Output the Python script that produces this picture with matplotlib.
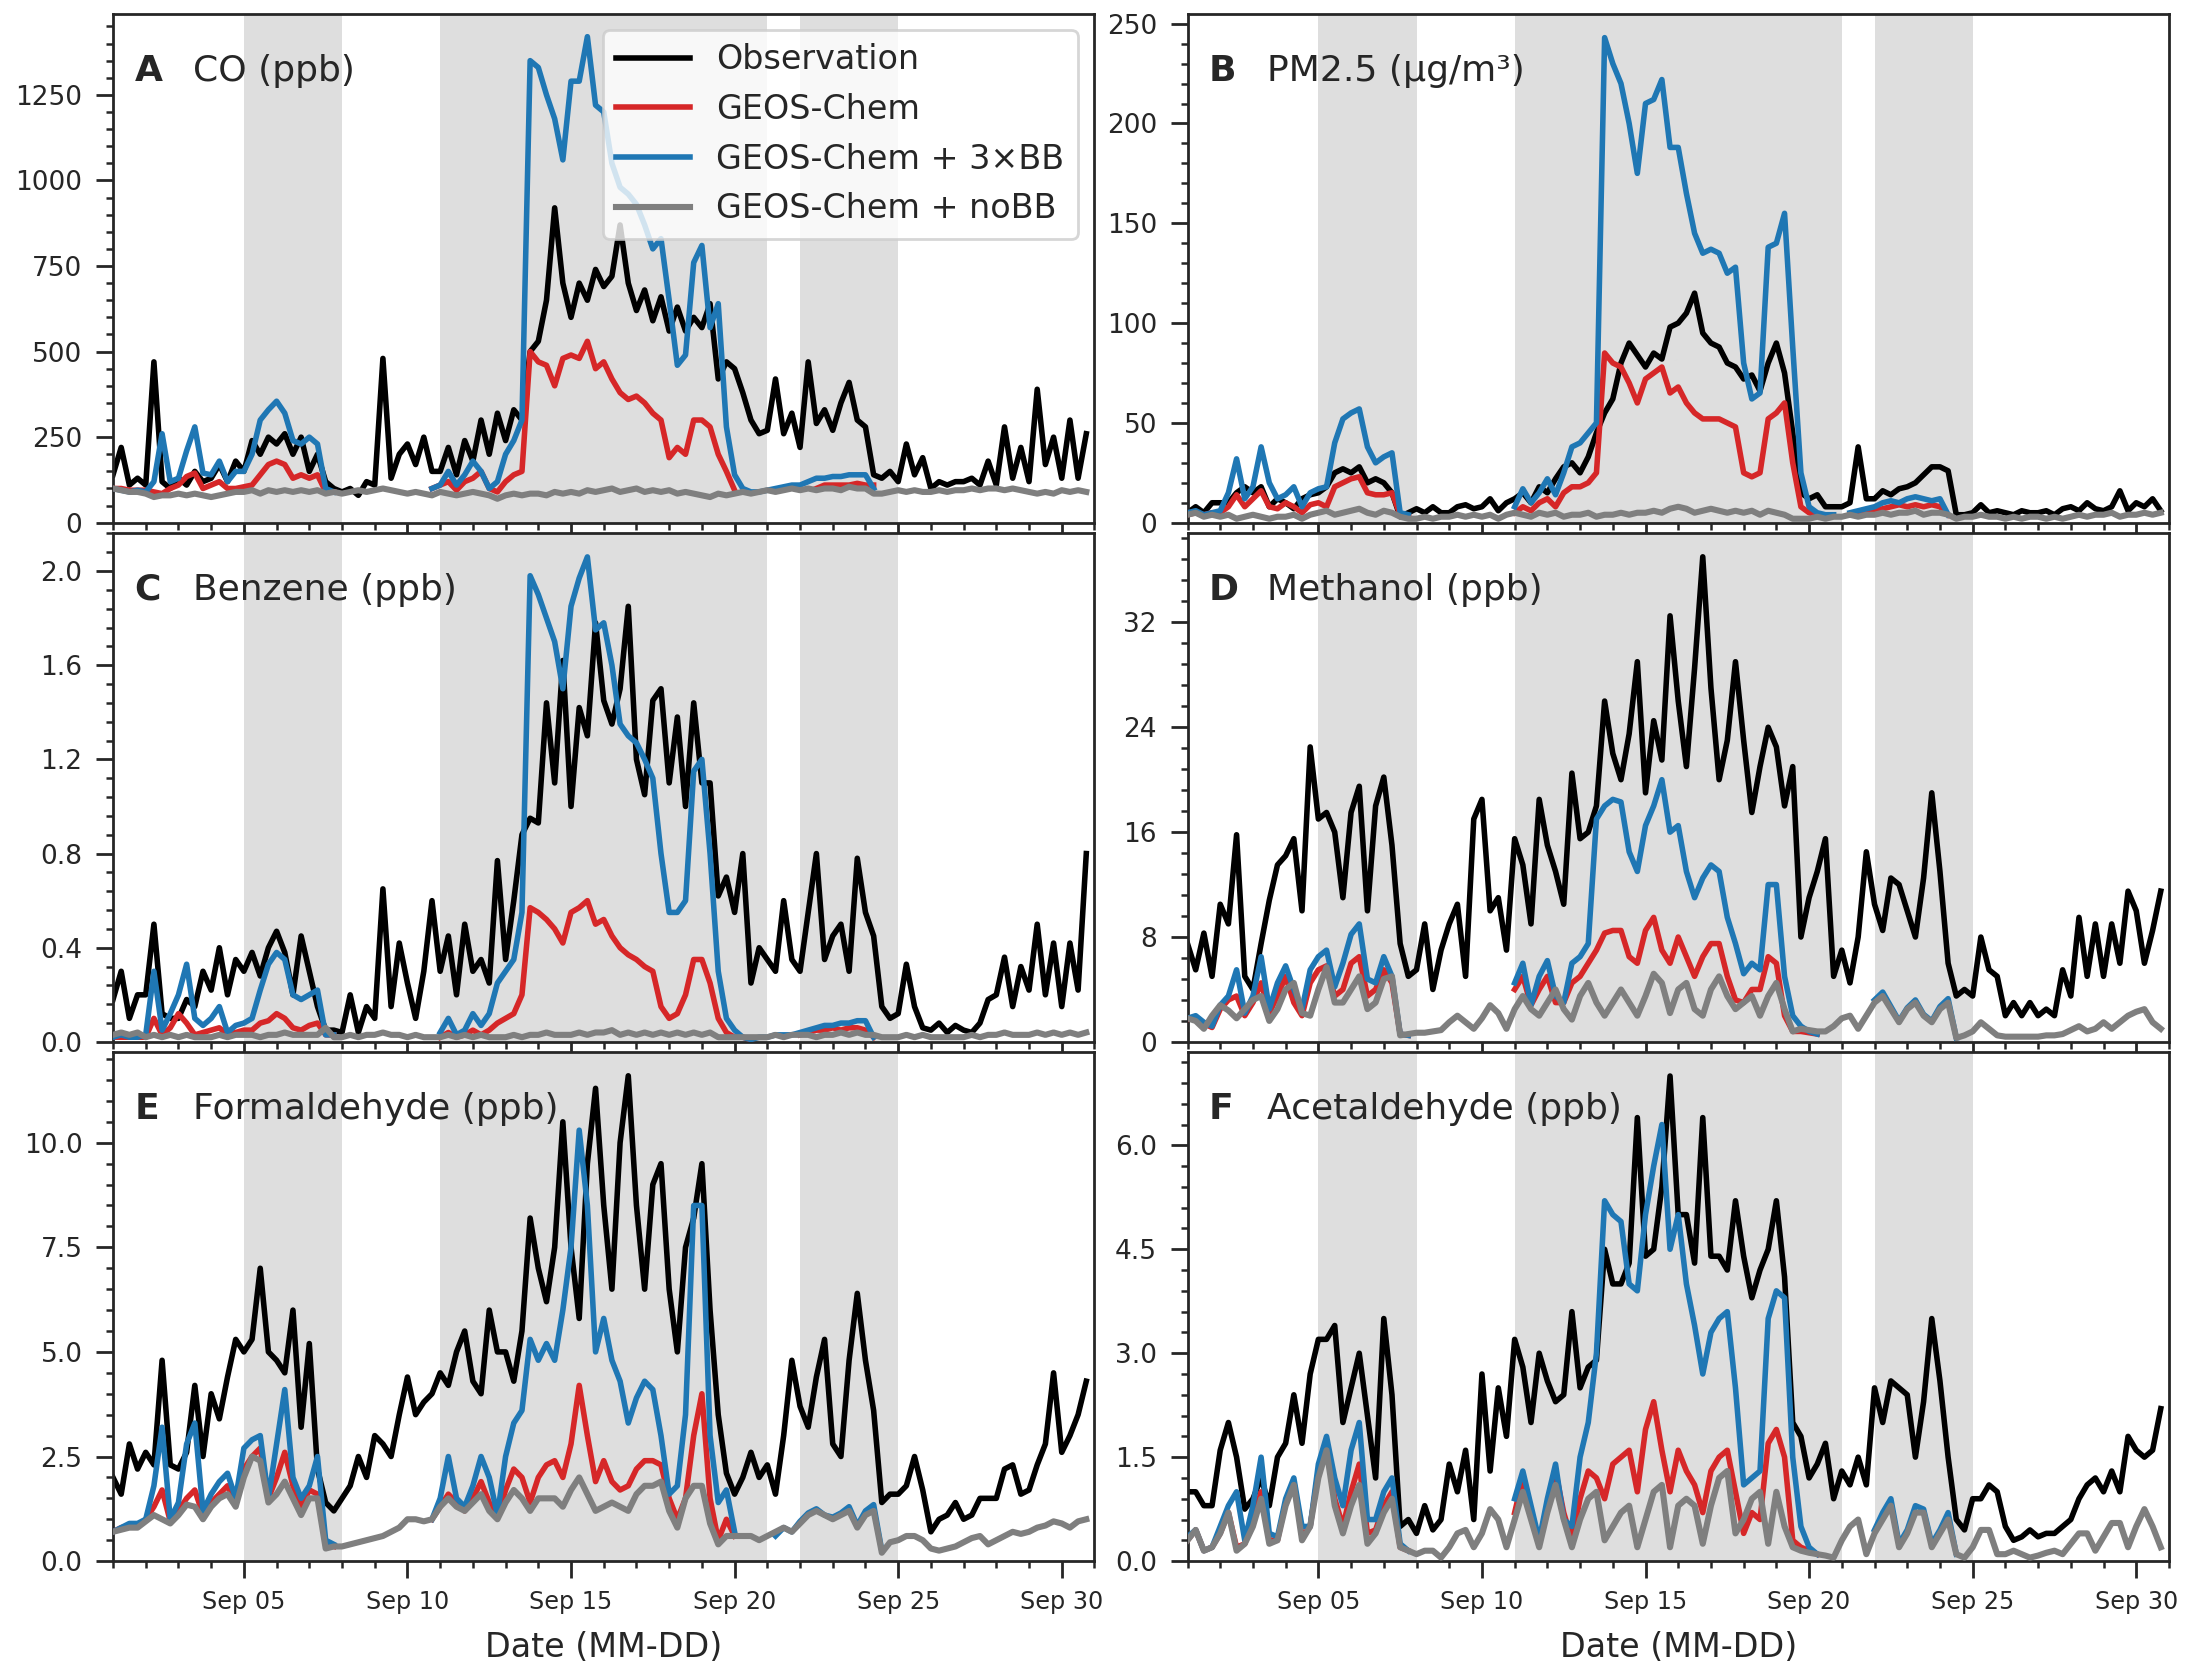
import numpy as np
import matplotlib
matplotlib.use("Agg")
import matplotlib.pyplot as plt
import matplotlib.dates as mdates
from matplotlib.ticker import MultipleLocator, AutoMinorLocator

nan = np.nan

# ---------------- data: 6-hourly values, Sep 1 00:00 onward ----------------
co_obs = [140,220,110,130, 110,470,120,100, 130,110,150,120, 130,170,120,180,
          150,240,200,250, 230,260,200,250, 150,200,120,100, 90,100,80,120,
          110,480,130,200, 230,170,250,150, 150,220,140,240, 180,300,200,320,
          240,330,300,500, 530,650,920,700, 600,700,650,740, 690,720,870,700,
          620,680,590,660, 560,630,560,600, 570,640,420,470, 450,380,300,260,
          270,420,260,320, 220,470,290,330, 270,350,410,300, 280,140,130,150,
          120,230,140,190, 100,120,110,120, 120,130,110,180, 110,280,130,220,
          120,390,170,250, 130,300,130,260]
co_gc = [100,100,95,95, 95,90,85,100, 110,135,145,100, 110,120,100,100,
         105,110,140,170, 180,170,130,140, 130,140,90,90, nan,nan,nan,nan,
         nan,nan,nan,nan, nan,nan,nan,100, 110,120,95,120, 130,150,100,90,
         120,140,150,500, 470,460,400,480, 490,480,530,450, 470,420,380,360,
         370,350,320,300, 190,220,200,300, 300,280,200,150, 95,nan,nan,nan,
         nan,nan,nan,nan, nan,nan,100,110, 110,110,110,115, 110,110,nan,nan,
         nan,nan,nan,nan, nan,nan,nan,nan, nan,nan,nan,nan, nan,nan,nan,nan,
         nan,nan,nan,nan, nan,nan,nan,nan]
co_3bb = [100,95,90,95, 90,120,260,120, 130,210,280,145, 140,180,120,150,
          150,200,300,330, 355,320,240,230, 250,230,100,90, nan,nan,nan,nan,
          nan,nan,nan,nan, nan,nan,nan,100, 110,150,110,140, 180,150,100,120,
          200,240,300,1350, 1330,1250,1180,1060, 1290,1290,1420,1220, 1200,1050,980,960,
          930,870,800,830, 650,460,490,760, 810,570,640,280, 140,100,90,90,
          95,100,105,110, 110,120,130,130, 135,135,140,140, 140,100,nan,nan,
          nan,nan,nan,nan, nan,nan,nan,nan, nan,nan,nan,nan, nan,nan,nan,nan,
          nan,nan,nan,nan, nan,nan,nan,nan]
co_nobb = [100,95,90,90, 85,75,80,80, 85,80,85,80, 75,80,85,90,
           90,95,85,95, 90,95,90,95, 90,95,85,90, 85,90,95,90,
           95,100,95,90, 85,90,85,80, 90,85,80,85, 90,85,80,70,
           80,85,80,85, 85,80,90,85, 90,85,95,90, 95,100,90,95,
           100,90,95,90, 95,85,90,85, 80,75,85,80, 85,90,85,90,
           95,90,95,100, 95,100,95,100, 100,95,105,100, 100,85,85,90,
           95,90,95,90, 90,95,90,95, 95,100,95,100, 100,95,100,95,
           90,85,90,85, 95,90,95,90]

pm_obs = [5,8,5,10, 10,10,15,18, 15,18,8,12, 10,7,12,14,
          15,18,25,27, 25,28,20,22, 20,15,3,5, 7,5,8,5,
          5,8,9,7, 8,12,6,10, 12,15,10,18, 15,22,28,30,
          25,33,45,55, 62,80,90,84, 78,85,82,98, 100,105,115,95,
          90,88,80,78, 72,74,66,80, 90,75,45,15, 12,14,8,8,
          8,10,38,12, 12,16,14,17, 18,20,24,28, 28,26,4,4,
          5,9,5,6, 5,4,6,5, 5,6,4,7, 8,6,10,7,
          6,8,16,6, 10,8,12,6]
pm_gc = [4,5,4,5, 5,8,14,8, 12,16,8,7, 10,8,5,9,
         10,8,18,20, 22,23,15,14, 14,15,4,3, nan,nan,nan,nan,
         nan,nan,nan,nan, nan,nan,nan,nan, 5,8,6,10, 12,8,15,18,
         18,20,25,85, 80,78,70,60, 72,75,78,65, 68,60,55,52,
         52,52,50,48, 25,23,25,52, 55,60,30,8, 5,4,nan,nan,
         nan,4,5,5, 6,7,8,9, 8,9,8,9, 8,4,nan,nan,
         nan,nan,nan,nan, nan,nan,nan,nan, nan,nan,nan,nan, nan,nan,nan,nan,
         nan,nan,nan,nan, nan,nan,nan,nan]
pm_3bb = [5,6,4,5, 6,15,32,12, 18,38,20,12, 14,18,8,15,
          17,18,40,52, 55,57,38,30, 33,35,5,4, nan,nan,nan,nan,
          nan,nan,nan,nan, nan,nan,nan,nan, 8,17,10,15, 22,14,25,38,
          40,45,50,243, 230,220,200,175, 210,212,222,188, 188,165,145,135,
          137,135,125,128, 80,62,65,138, 140,155,88,25, 8,5,4,4,
          nan,5,6,7, 8,10,11,10, 12,13,12,11, 12,4,nan,nan,
          nan,nan,nan,nan, nan,nan,nan,nan, nan,nan,nan,nan, nan,nan,nan,nan,
          nan,nan,nan,nan, nan,nan,nan,nan]
pm_nobb = [4,5,3,4, 3,4,2,3, 4,3,2,3, 3,4,2,4,
           5,6,4,5, 6,7,5,4, 6,5,3,2, 2,3,2,3,
           3,4,3,4, 3,4,2,4, 5,4,3,5, 4,5,3,4,
           4,5,3,4, 4,5,4,5, 5,6,5,7, 8,7,5,6,
           7,6,5,6, 5,6,4,6, 5,4,2,2, 2,3,2,3,
           3,4,3,4, 4,5,4,5, 5,6,4,5, 5,4,2,3,
           3,4,3,3, 2,3,2,3, 3,2,3,2, 3,4,3,4,
           4,5,3,4, 4,5,4,5]

bz_obs = [0.18,0.3,0.1,0.2, 0.2,0.5,0.12,0.1, 0.1,0.18,0.15,0.3, 0.22,0.4,0.2,0.35,
          0.3,0.38,0.28,0.4, 0.47,0.38,0.2,0.45, 0.3,0.15,0.05,0.05, 0.04,0.2,0.04,0.15,
          0.1,0.65,0.15,0.42, 0.25,0.1,0.3,0.6, 0.3,0.45,0.2,0.5, 0.3,0.35,0.25,0.77,
          0.35,0.6,0.88,0.95, 0.93,1.44,1.1,1.62, 1.0,1.42,1.3,1.78, 1.45,1.35,1.5,1.85,
          1.2,1.05,1.45,1.5, 1.1,1.38,1.0,1.44, 1.1,1.1,0.62,0.7, 0.55,0.8,0.25,0.4,
          0.35,0.3,0.6,0.35, 0.3,0.55,0.8,0.35, 0.45,0.5,0.3,0.78, 0.55,0.45,0.15,0.1,
          0.12,0.33,0.15,0.06, 0.05,0.08,0.04,0.07, 0.05,0.04,0.08,0.18, 0.2,0.36,0.15,0.32,
          0.22,0.5,0.2,0.42, 0.15,0.42,0.22,0.8]
bz_gc = [0.02,0.02,0.02,0.02, 0.02,0.1,0.03,0.06, 0.12,0.08,0.03,0.04, 0.05,0.06,0.03,0.04,
         0.05,0.05,0.08,0.09, 0.12,0.1,0.06,0.05, 0.07,0.08,0.03,0.03, nan,nan,nan,nan,
         nan,nan,nan,nan, nan,nan,nan,nan, 0.02,0.04,0.02,0.03, 0.05,0.03,0.05,0.08,
         0.1,0.12,0.2,0.57, 0.55,0.52,0.48,0.42, 0.55,0.57,0.6,0.5, 0.52,0.45,0.4,0.37,
         0.35,0.32,0.3,0.15, 0.1,0.12,0.2,0.35, 0.35,0.25,0.1,0.04, 0.02,0.02,0.01,nan,
         nan,nan,nan,nan, 0.03,0.04,0.05,0.05, 0.06,0.05,0.06,0.06, 0.05,0.02,nan,nan,
         nan,nan,nan,nan, nan,nan,nan,nan, nan,nan,nan,nan, nan,nan,nan,nan,
         nan,nan,nan,nan, nan,nan,nan,nan]
bz_3bb = [0.02,0.03,0.02,0.02, 0.03,0.3,0.05,0.12, 0.2,0.33,0.1,0.07, 0.1,0.15,0.04,0.07,
          0.08,0.1,0.22,0.33, 0.38,0.35,0.2,0.18, 0.2,0.22,0.03,0.03, nan,nan,nan,nan,
          nan,nan,nan,nan, nan,nan,nan,nan, 0.04,0.1,0.03,0.05, 0.12,0.07,0.12,0.25,
          0.3,0.35,0.55,1.98, 1.9,1.8,1.7,1.5, 1.85,1.97,2.06,1.75, 1.78,1.6,1.35,1.3,
          1.27,1.2,1.12,0.8, 0.55,0.55,0.6,1.15, 1.2,0.8,0.3,0.1, 0.05,0.02,0.01,0.02,
          0.02,0.03,0.03,0.03, 0.04,0.05,0.06,0.07, 0.07,0.08,0.08,0.09, 0.09,0.02,nan,nan,
          nan,nan,nan,nan, nan,nan,nan,nan, nan,nan,nan,nan, nan,nan,nan,nan,
          nan,nan,nan,nan, nan,nan,nan,nan]
bz_nobb = [0.03,0.04,0.03,0.04, 0.02,0.03,0.02,0.03, 0.02,0.03,0.02,0.02, 0.02,0.03,0.02,0.03,
           0.03,0.03,0.02,0.03, 0.03,0.04,0.03,0.03, 0.03,0.03,0.06,0.02, 0.02,0.03,0.02,0.03,
           0.03,0.04,0.03,0.03, 0.02,0.03,0.02,0.02, 0.02,0.03,0.02,0.03, 0.02,0.03,0.02,0.02,
           0.02,0.03,0.02,0.03, 0.03,0.04,0.03,0.03, 0.03,0.04,0.03,0.04, 0.04,0.05,0.03,0.04,
           0.03,0.04,0.03,0.04, 0.03,0.04,0.03,0.04, 0.03,0.04,0.02,0.02, 0.02,0.02,0.02,0.02,
           0.02,0.03,0.02,0.03, 0.03,0.03,0.02,0.03, 0.03,0.04,0.03,0.04, 0.03,0.03,0.02,0.02,
           0.02,0.03,0.02,0.03, 0.02,0.02,0.02,0.02, 0.02,0.03,0.02,0.03, 0.03,0.04,0.03,0.03,
           0.03,0.04,0.03,0.04, 0.03,0.04,0.03,0.04]

me_obs = [7.5,5.5,8.3,5.0, 10.5,9.0,15.8,5.0, 4.0,7.5,10.8,13.5, 14.2,15.5,10.0,22.5,
          17.0,17.5,16.0,11.0, 17.5,19.5,10.0,18.0, 20.2,15.0,7.5,5.0, 5.5,9.0,4.0,7.0,
          9.0,10.5,5.0,17.0, 18.5,10.0,11.0,7.0, 15.5,13.5,9.0,18.5, 15.0,13.0,10.5,20.5,
          15.5,16.0,18.0,26.0, 22.0,20.0,23.5,29.0, 19.0,24.5,21.5,32.5, 26.0,21.0,28.5,37.0,
          27.0,20.0,23.0,29.0, 23.0,17.5,21.0,24.0, 22.5,18.0,21.0,8.0, 11.0,13.0,15.5,5.0,
          7.0,4.5,8.0,14.5, 10.5,8.5,12.5,12.0, 10.0,8.0,12.5,19.0, 13.0,6.0,3.5,4.0,
          3.5,8.0,5.5,5.0, 2.0,3.0,2.0,3.0, 2.0,2.5,2.0,5.5, 3.5,9.5,5.0,9.0,
          5.0,9.0,6.0,11.5, 10.0,6.0,8.5,11.5]
me_gc = [1.7,1.9,1.4,1.1, 2.5,3.2,3.5,2.0, 3.0,4.5,2.2,3.5, 5.0,3.0,2.0,4.5,
         5.5,5.8,3.5,4.0, 6.0,6.5,3.5,4.0, 5.5,4.5,0.6,0.5, nan,nan,nan,nan,
         nan,nan,nan,nan, nan,nan,nan,nan, 4.0,5.0,2.8,4.0, 5.0,3.0,3.0,4.5,
         5.0,6.0,7.0,8.3, 8.5,8.5,6.5,6.0, 8.5,9.5,7.0,6.0, 8.0,6.5,5.0,6.5,
         7.5,7.5,5.0,3.2, 3.0,4.0,4.0,6.5, 6.0,2.0,0.8,0.8, 0.7,0.6,nan,nan,
         nan,nan,nan,nan, nan,nan,nan,nan, nan,nan,nan,nan, nan,nan,nan,nan,
         nan,nan,nan,nan, nan,nan,nan,nan, nan,nan,nan,nan, nan,nan,nan,nan,
         nan,nan,nan,nan, nan,nan,nan,nan]
me_3bb = [1.8,2.0,1.5,1.2, 2.8,3.5,5.5,2.2, 3.5,6.5,2.5,4.5, 5.8,4.0,2.5,5.5,
          6.5,7.0,4.2,6.0, 8.2,9.0,4.8,4.5, 6.5,5.0,0.6,0.5, nan,nan,nan,nan,
          nan,nan,nan,nan, nan,nan,nan,nan, 4.5,6.0,2.8,5.0, 6.2,3.5,3.0,6.0,
          6.5,7.5,17.0,18.0, 18.5,18.3,14.5,13.0, 16.5,18.0,20.0,16.0, 16.5,13.0,11.0,12.5,
          13.5,13.0,9.5,7.5, 5.2,6.0,5.5,12.0, 12.0,5.0,2.0,1.2, 0.8,0.6,nan,nan,
          nan,nan,nan,nan, 3.2,3.8,2.7,1.6, 2.6,3.2,2.1,1.6, 2.7,3.3,0.3,nan,
          nan,nan,nan,nan, nan,nan,nan,nan, nan,nan,nan,nan, nan,nan,nan,nan,
          nan,nan,nan,nan, nan,nan,nan,nan]
me_nobb = [1.8,1.6,1.0,2.0, 2.8,2.4,1.8,2.5, 3.2,3.5,1.6,2.5, 4.0,4.5,2.2,2.0,
           4.0,5.7,3.0,3.0, 4.0,5.0,2.5,3.0, 4.8,5.0,0.5,0.6, 0.7,0.7,0.8,0.9,
           1.5,2.0,1.5,1.0, 1.8,2.8,2.2,1.0, 2.5,3.5,2.5,2.0, 3.0,4.0,2.5,1.7,
           3.5,4.5,3.0,2.0, 3.0,4.0,3.0,2.0, 3.5,5.2,4.5,2.2, 4.0,4.5,2.5,2.0,
           4.0,5.0,3.5,2.5, 3.0,3.5,2.0,3.5, 4.5,2.5,0.8,1.0, 0.9,0.8,0.8,1.2,
           1.8,2.0,1.0,2.0, 3.0,3.5,2.5,1.5, 2.5,3.0,2.0,1.5, 2.5,3.0,0.3,0.5,
           0.8,1.5,1.0,0.5, 0.4,0.4,0.4,0.4, 0.4,0.5,0.5,0.6, 0.9,1.2,0.8,1.0,
           1.5,1.0,1.5,2.0, 2.3,2.5,1.5,1.0]

fo_obs = [2.0,1.6,2.8,2.2, 2.6,2.3,4.8,2.3, 2.2,2.6,4.2,2.5, 4.0,3.4,4.4,5.3,
          5.0,5.3,7.0,5.0, 4.8,4.5,6.0,3.2, 5.2,2.2,1.4,1.2, 1.5,1.8,2.5,2.0,
          3.0,2.8,2.5,3.5, 4.4,3.5,3.8,4.0, 4.5,4.2,5.0,5.5, 4.3,4.0,6.0,5.0,
          5.0,4.3,5.5,8.2, 7.0,6.2,7.5,10.5, 7.5,5.8,9.5,11.3, 8.5,6.5,10.0,11.6,
          8.5,6.5,9.0,9.5, 6.5,5.0,7.5,8.2, 9.5,6.0,3.5,2.1, 1.6,2.0,2.6,2.0,
          2.3,1.6,3.0,4.8, 3.7,3.2,4.4,5.3, 2.8,2.5,4.8,6.4, 4.8,3.6,1.4,1.6,
          1.6,1.8,2.5,1.7, 0.7,1.0,1.1,1.4, 1.0,1.1,1.5,1.5, 1.5,2.2,2.3,1.6,
          1.7,2.3,2.8,4.5, 2.6,3.0,3.5,4.3]
fo_gc = [0.7,0.8,0.85,0.85, 1.0,1.3,1.7,0.95, 1.2,1.5,1.7,1.1, 1.4,1.6,1.8,1.4,
         2.2,2.5,2.7,1.5, 2.0,2.6,1.8,1.3, 1.7,1.6,0.4,0.35, nan,nan,nan,nan,
         nan,nan,nan,nan, nan,nan,nan,1.0, 1.3,1.6,1.4,1.2, 1.5,1.9,1.4,1.05,
         1.7,2.2,2.0,1.4, 2.0,2.3,2.4,2.0, 2.8,4.2,3.0,1.9, 2.4,1.9,1.7,1.8,
         2.2,2.4,2.4,2.3, 1.5,1.0,1.5,3.0, 4.0,1.5,0.5,1.0, 0.6,nan,nan,nan,
         nan,nan,nan,nan, nan,nan,nan,nan, nan,nan,nan,nan, nan,nan,nan,nan,
         nan,nan,nan,nan, nan,nan,nan,nan, nan,nan,nan,nan, nan,nan,nan,nan,
         nan,nan,nan,nan, nan,nan,nan,nan]
fo_3bb = [0.7,0.8,0.9,0.9, 1.0,1.8,3.2,1.0, 1.4,2.8,3.3,1.2, 1.6,1.9,2.1,1.5,
          2.7,2.9,3.0,1.5, 2.8,4.1,2.0,1.5, 1.8,2.5,0.5,0.4, nan,nan,nan,nan,
          nan,nan,nan,nan, nan,nan,nan,1.0, 1.5,2.5,1.5,1.3, 1.8,2.5,2.0,1.1,
          2.5,3.3,3.6,5.3, 4.8,5.2,4.8,6.0, 7.5,10.3,8.5,5.0, 5.8,4.8,4.3,3.3,
          3.9,4.3,4.1,3.0, 1.6,1.8,3.5,8.5, 8.5,3.0,1.4,1.7, 0.7,nan,nan,nan,
          nan,0.6,0.8,0.7, 0.95,1.15,1.25,1.1, 1.05,1.15,1.3,0.85, 1.2,1.35,0.25,nan,
          nan,nan,nan,nan, nan,nan,nan,nan, nan,nan,nan,nan, nan,nan,nan,nan,
          nan,nan,nan,nan, nan,nan,nan,nan]
fo_nobb = [0.7,0.75,0.8,0.8, 0.95,1.1,1.0,0.9, 1.1,1.35,1.3,1.0, 1.3,1.5,1.6,1.3,
           2.0,2.5,2.4,1.4, 1.6,1.9,1.5,1.1, 1.5,1.5,0.3,0.35, 0.35,0.4,0.45,0.5,
           0.55,0.6,0.7,0.8, 1.0,1.0,0.95,1.0, 1.3,1.5,1.3,1.2, 1.4,1.6,1.2,1.0,
           1.4,1.7,1.5,1.2, 1.5,1.5,1.5,1.3, 1.7,2.0,1.6,1.2, 1.3,1.4,1.3,1.2,
           1.6,1.8,1.8,1.9, 1.2,0.8,1.5,1.8, 1.8,0.9,0.4,0.6, 0.6,0.6,0.6,0.5,
           0.6,0.7,0.8,0.7, 0.9,1.1,1.2,1.1, 1.0,1.1,1.2,0.8, 1.1,1.2,0.2,0.45,
           0.5,0.6,0.6,0.5, 0.3,0.25,0.3,0.35, 0.45,0.55,0.6,0.4, 0.5,0.6,0.7,0.65,
           0.7,0.8,0.85,0.95, 0.9,0.8,0.95,1.0]

ac_obs = [1.0,1.0,0.8,0.8, 1.6,2.0,1.5,0.75, 0.9,1.2,0.8,1.5, 1.7,2.4,1.7,2.7,
          3.2,3.2,3.4,2.0, 2.5,3.0,2.1,1.2, 3.5,2.4,0.5,0.6, 0.4,0.8,0.45,0.6,
          1.4,1.0,1.6,0.6, 2.7,1.3,2.5,1.8, 3.2,2.8,2.0,3.0, 2.6,2.3,2.4,3.6,
          2.5,2.8,2.9,4.5, 4.0,4.0,4.3,6.4, 4.4,4.5,5.4,7.0, 5.0,5.0,4.3,6.4,
          4.4,4.4,4.2,5.2, 4.4,3.8,4.2,4.5, 5.2,4.1,2.0,1.8, 1.2,1.4,1.7,0.9,
          1.3,1.1,1.5,1.1, 2.5,2.0,2.6,2.5, 2.4,1.5,2.3,3.5, 2.6,1.5,0.6,0.45,
          0.9,0.9,1.1,1.0, 0.5,0.3,0.35,0.45, 0.35,0.4,0.4,0.5, 0.6,0.9,1.1,1.2,
          1.0,1.3,1.0,1.8, 1.6,1.5,1.6,2.2]
ac_gc = [0.3,0.45,0.15,0.2, 0.4,0.7,0.2,0.25, 0.6,1.0,0.3,0.3, 0.85,1.15,0.35,0.5,
         1.3,1.7,0.9,0.5, 1.0,1.4,0.4,0.45, 0.8,1.0,0.2,0.15, nan,nan,nan,nan,
         nan,nan,nan,nan, nan,nan,nan,nan, 0.7,1.2,0.7,0.25, 0.8,1.3,0.7,0.3,
         0.9,1.3,1.2,0.9, 1.4,1.5,1.6,1.0, 1.9,2.3,1.6,1.0, 1.6,1.3,1.1,0.7,
         1.3,1.5,1.6,1.0, 0.4,0.7,0.6,1.7, 1.9,1.5,0.3,0.2, 0.15,0.1,nan,nan,
         nan,nan,nan,nan, nan,nan,nan,nan, nan,nan,nan,nan, nan,nan,nan,nan,
         nan,nan,nan,nan, nan,nan,nan,nan, nan,nan,nan,nan, nan,nan,nan,nan,
         nan,nan,nan,nan, nan,nan,nan,nan]
ac_3bb = [0.35,0.45,0.15,0.2, 0.5,0.8,1.0,0.3, 0.8,1.5,0.4,0.35, 0.9,1.2,0.5,0.5,
          1.4,1.8,1.2,0.8, 1.6,2.0,0.6,0.6, 1.0,1.2,0.25,0.15, nan,nan,nan,nan,
          nan,nan,nan,nan, nan,nan,nan,nan, 0.9,1.3,0.8,0.3, 0.9,1.4,0.6,0.5,
          1.5,2.0,3.0,5.2, 5.0,4.9,4.0,3.9, 5.0,5.7,6.3,4.5, 5.0,4.0,3.4,2.7,
          3.3,3.5,3.6,2.5, 1.1,1.2,1.3,3.5, 3.9,3.8,1.5,0.5, 0.2,0.1,nan,nan,
          nan,nan,nan,nan, 0.45,0.7,0.9,0.25, 0.45,0.8,0.75,0.25, 0.45,0.7,0.1,nan,
          nan,nan,nan,nan, nan,nan,nan,nan, nan,nan,nan,nan, nan,nan,nan,nan,
          nan,nan,nan,nan, nan,nan,nan,nan]
ac_nobb = [0.3,0.45,0.15,0.2, 0.4,0.7,0.15,0.25, 0.5,0.9,0.25,0.3, 0.8,1.1,0.3,0.5,
           1.2,1.6,0.8,0.4, 0.8,1.1,0.25,0.4, 0.7,0.9,0.2,0.15, 0.1,0.15,0.15,0.05,
           0.2,0.4,0.45,0.2, 0.4,0.75,0.6,0.2, 0.6,1.0,0.6,0.2, 0.7,1.1,0.6,0.2,
           0.6,0.9,1.0,0.3, 0.5,0.7,0.8,0.2, 0.6,1.0,1.1,0.2, 0.8,0.9,0.8,0.25,
           0.8,1.2,1.3,0.4, 0.6,0.9,1.0,0.25, 1.0,0.5,0.2,0.15, 0.12,0.1,0.08,0.05,
           0.3,0.5,0.6,0.1, 0.4,0.6,0.8,0.2, 0.4,0.7,0.7,0.2, 0.4,0.6,0.1,0.05,
           0.2,0.45,0.45,0.1, 0.1,0.15,0.1,0.05, 0.08,0.12,0.15,0.1, 0.25,0.4,0.4,0.15,
           0.35,0.55,0.55,0.2, 0.5,0.75,0.5,0.2]

panel_letters = ["A", "B", "C", "D", "E", "F"]
panel_titles = ["CO (ppb)", "PM2.5 (μg/m³)", "Benzene (ppb)", "Methanol (ppb)",
                "Formaldehyde (ppb)", "Acetaldehyde (ppb)"]
series_labels = ["Observation", "GEOS-Chem", "GEOS-Chem + 3×BB", "GEOS-Chem + noBB"]
shade_periods = [("2020-09-05", "2020-09-08"), ("2020-09-11", "2020-09-21"),
                 ("2020-09-22", "2020-09-25")]
major_steps = [250, 50, 0.4, 8, 2.5, 1.5]

panel_data = [
    (co_obs, co_gc, co_3bb, co_nobb),
    (pm_obs, pm_gc, pm_3bb, pm_nobb),
    (bz_obs, bz_gc, bz_3bb, bz_nobb),
    (me_obs, me_gc, me_3bb, me_nobb),
    (fo_obs, fo_gc, fo_3bb, fo_nobb),
    (ac_obs, ac_gc, ac_3bb, ac_nobb),
]

# ---------------- styling ----------------
TXT = "#262626"
plt.rcParams.update({
    "font.family": ["DejaVu Sans"],
    "text.color": TXT,
    "axes.edgecolor": TXT,
    "axes.labelcolor": TXT,
    "xtick.color": TXT,
    "ytick.color": TXT,
    "axes.linewidth": 1.0,
})
colors = ["black", "#d62728", "#1f77b4", "#7f7f7f"]
widths = [2.0, 2.0, 2.0, 2.2]

fig = plt.figure(figsize=(10.93, 8.375), dpi=200)
axes = fig.subplots(3, 2, sharex=True)
fig.subplots_adjust(left=0.0517, right=0.9922, top=0.9919, bottom=0.068,
                    wspace=0.0948, hspace=0.0197)

start = np.datetime64("2020-09-01T00:00")

for i, ax in enumerate(axes.flat):
    data = panel_data[i]
    for s0, s1 in shade_periods:
        ax.axvspan(np.datetime64(s0), np.datetime64(s1), color="#dedede", lw=0, zorder=0)
    for k, vals in enumerate(data):
        v = np.asarray(vals, dtype=float)
        t = start + np.arange(len(v)) * np.timedelta64(6, "h")
        ax.plot(t, v, color=colors[k], lw=widths[k], label=series_labels[k], zorder=2 + k)
    ax.set_ylim(bottom=0)
    ax.set_xlim(np.datetime64("2020-09-01"), np.datetime64("2020-10-01"))
    ax.yaxis.set_major_locator(MultipleLocator(major_steps[i]))
    ax.yaxis.set_minor_locator(AutoMinorLocator(5))
    ax.xaxis.set_major_locator(mdates.DayLocator(bymonthday=[5, 10, 15, 20, 25, 30]))
    ax.xaxis.set_minor_locator(mdates.DayLocator())
    ax.xaxis.set_major_formatter(mdates.DateFormatter("%b %d"))
    ax.tick_params(axis="both", which="major", direction="out", length=6, width=1.0)
    ax.tick_params(axis="both", which="minor", direction="out", length=2.6, width=0.9)
    ax.tick_params(axis="y", which="major", labelsize=9.5, pad=5)
    ax.tick_params(axis="x", which="major", labelsize=8.6, pad=4.5)
    ax.text(0.022, 0.888, panel_letters[i], transform=ax.transAxes, fontsize=13,
            fontweight="bold", va="center", ha="left", zorder=10)
    ax.text(0.081, 0.888, panel_titles[i], transform=ax.transAxes, fontsize=13,
            va="center", ha="left", zorder=10)
    if i >= 4:
        ax.set_xlabel("Date (MM-DD)", fontsize=12, labelpad=6)

leg = axes[0, 0].legend(loc="upper right", bbox_to_anchor=(0.983, 0.968), borderaxespad=0,
                        fontsize=12, handlelength=2.2, framealpha=0.8)
leg.set_zorder(20)

fig.savefig("out.png", dpi=200)
